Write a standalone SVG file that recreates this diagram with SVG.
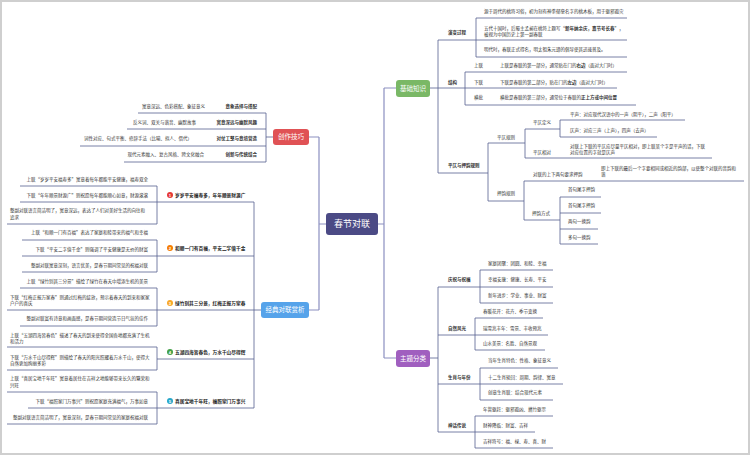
<svg xmlns="http://www.w3.org/2000/svg" width="750" height="455" viewBox="0 0 750 455">
<style>
.t{font-family:"Noto Sans CJK SC","Noto Sans",sans-serif;font-size:4.5px;fill:#333}
.b{font-weight:bold}
.n{font-family:"Noto Sans CJK SC","Noto Sans",sans-serif;font-size:4.7px;font-weight:bold;fill:#222}
.w{font-family:"Noto Sans CJK SC","Noto Sans",sans-serif;font-size:6.5px;fill:#fff;text-anchor:middle}
.e{text-anchor:end}
.ln{stroke:#56608f;stroke-width:0.8;fill:none}
.sp{stroke:#8b8fc0;stroke-width:1.2;fill:none}
.ic{font-family:"Liberation Sans",sans-serif;font-size:4.2px;font-weight:bold;fill:#fff;text-anchor:middle}
</style>
<rect x="1" y="1" width="748" height="453" fill="#fff" stroke="#cfcfcf" stroke-width="2"/>
<g id="connectors">
<path class="sp" d="M378 224H384M384 88V358M384 88H396M384 358H396M326 224H319M319 137V310M319 137H309M319 310H309"/>
<path class="ln" d="M430 88H438M438 40V173M438 40H627M476 18V57M476 18H627M476 57H627M438 88H617M465 72V105M465 72H627M465 105H636M438 173H488M488 143V201M488 143H525M525 129V158M525 129H560M560 120V137M560 120H685M560 137H657M525 158H712M488 201H524M524 181V220M524 181H744M524 220H560M560 197V244M560 197H601M560 213H601M560 229H598M560 244H598"/>
<path class="ln" d="M430 358H438M438 287V432M438 287H553M480 270V303M480 270H553M480 303H553M438 335H548M475 318V350M475 318H543M475 350H545M438 384H563M480 368V400M480 368H558M480 400H553M438 432H535M475 416V448M475 416H553M475 448H553"/>
<path class="ln" d="M273 137H266M266 113V162M266 113H138M266 129H127M266 146H80M266 162H124"/>
<path class="ln" d="M261 310H254M254 202V408M254 202H20M157 186V224M157 186H20M157 224H7M254 256H22M157 240V272M157 240H22M157 272H22M254 310H7M157 288V326M157 288H20M157 326H20M254 359H157M157 347V370M157 347H7M157 370H7M254 408H28M157 392V424M157 392H7M157 424H7"/>
</g>
<g id="center"><rect x="326" y="213" width="52" height="22" rx="3" fill="#4b4a85"/><text class="w" x="352" y="227.3" style="font-size:9px">春节对联</text></g>
<g id="jichu"><rect x="396" y="80" width="34" height="17" rx="3" fill="#7ab866"/><text class="w" x="413" y="90.6">基础知识</text></g>
<g id="zhuti"><rect x="396" y="350" width="34" height="17" rx="3" fill="#a05fbf"/><text class="w" x="413" y="360.6">主题分类</text></g>
<g id="chuangzuo"><rect x="273" y="129" width="36" height="16" rx="3" fill="#e05255"/><text class="w" x="291" y="139.4">创作技巧</text></g>
<g id="jingdian"><rect x="261" y="302" width="48" height="16" rx="3" fill="#56a3ea"/><text class="w" x="285" y="312.4">经典对联赏析</text></g>
<g id="yanbian">
<text class="t b" x="448" y="33.7">演变过程</text>
<text class="t" x="484" y="12.7">源于周代的桃符习俗，初为刻有神荼郁垒名字的桃木板，用于驱邪避灾</text>
<text class="t" x="484" y="29.7">五代十国时，后蜀主孟昶在桃符上题写“<tspan class="b">新年纳余庆，嘉节号长春</tspan>”，</text>
<text class="t" x="484" y="35.7">被视为中国历史上第一副春联</text>
<text class="t" x="484" y="50.7">明代时，春联正式得名，明太祖朱元璋的倡导使其迅速普及。</text>
</g>
<g id="jiegou">
<text class="t b" x="448" y="83.7">结构</text>
<text class="t" x="474" y="66.7">上联</text><text class="t" x="500" y="66.7">上联是春联的第一部分，通常贴在门的<tspan class="b">右边</tspan>（面对大门时）</text>
<text class="t" x="474" y="83.7">下联</text><text class="t" x="500" y="83.7">下联是春联的第二部分，贴在门的<tspan class="b">左边</tspan>（面对大门时）</text>
<text class="t" x="474" y="98.7">横批</text><text class="t" x="500" y="98.7">横批是春联的第三部分，通常位于春联的<tspan class="b">正上方或中间位置</tspan></text>
</g>
<g id="pingze">
<text class="t b" x="448" y="166.7">平仄与押韵规则</text>
<text class="t" x="497" y="138.7">平仄规则</text>
<text class="t" x="533" y="123.7">平仄定义</text>
<text class="t" x="570" y="115.7">平声：对应现代汉语中的一声（阴平），二声（阳平）</text>
<text class="t" x="570" y="131.7">仄声：对应三声（上声），四声（去声）</text>
<text class="t" x="533" y="153.7">平仄相对</text>
<text class="t" x="570" y="147.7">对联上下联的平仄应尽量平仄相对，即上联某个字是平声的话，下联</text>
<text class="t" x="570" y="153.7">对应位置的字就是仄声</text>
<text class="t" x="497" y="194.7">押韵规则</text>
<text class="t" x="533" y="175.7">对联的上下两句要求押韵</text>
<text class="t" x="601" y="169.7">即上下联的最后一个字要相同或相近的韵部，以使整个对联的音韵和</text>
<text class="t" x="601" y="175.7">谐</text>
<text class="t" x="532" y="214.7">押韵方式</text>
<text class="t" x="568" y="190.7">首句尾字押韵</text>
<text class="t" x="568" y="206.7">首句尾字押韵</text>
<text class="t" x="568" y="222.7">两句一换韵</text>
<text class="t" x="568" y="238.7">多句一换韵</text>
</g>
<g id="qingzhu">
<text class="t b" x="448" y="280.7">庆祝与祝福</text>
<text class="t" x="488" y="264.7">家庭团聚：团圆、和睦、幸福</text>
<text class="t" x="488" y="280.7">幸福安康：健康、长寿、平安</text>
<text class="t" x="488" y="296.7">新年进步：学业、事业、财富</text>
</g>
<g id="ziran">
<text class="t b" x="448" y="329.7">自然风光</text>
<text class="t" x="483" y="312.7">春暖花开：花卉、季节变换</text>
<text class="t" x="483" y="329.7">瑞雪兆丰年：雪景、丰收预兆</text>
<text class="t" x="483" y="344.7">山水美景：名胜、自然景观</text>
</g>
<g id="shengxiao">
<text class="t b" x="448" y="378.7">生肖与年份</text>
<text class="t" x="488" y="361.7">当年生肖特色：性格、象征意义</text>
<text class="t" x="488" y="378.7">十二生肖轮回：周期、韵律、寓意</text>
<text class="t" x="488" y="393.7">创意生肖联：结合现代元素</text>
</g>
<g id="shenhua">
<text class="t b" x="448" y="426.7">神话传说</text>
<text class="t" x="483" y="410.7">年兽驱赶：驱邪避凶、燃竹驱祟</text>
<text class="t" x="483" y="426.7">财神降临：财富、吉祥</text>
<text class="t" x="483" y="442.7">吉祥符号：福、禄、寿、喜、财</text>
</g>
<g id="jiqiao">
<text class="t b e" x="257" y="107.7">意象选择与搭配</text><text class="t e" x="205" y="107.7">寓意深远、色彩搭配、象征意义</text>
<text class="t b e" x="257" y="123.7">寓意深远与幽默风趣</text><text class="t e" x="196" y="123.7">反义词、双关与谐音、幽默故事</text>
<text class="t b e" x="257" y="139.7">对仗工整与意境营造</text><text class="t e" x="192" y="139.7">词性对应、句式平衡、修辞手法（比喻、拟人、借代）</text>
<text class="t b e" x="257" y="155.7">创新与传统结合</text><text class="t e" x="204" y="155.7">现代元素融入、复古风格、跨文化融合</text>
</g>
<g id="item1">
<circle cx="170" cy="195" r="3" fill="#e53935"/><text class="ic" x="170" y="196.5">1</text>
<text class="n" x="175" y="196.7">岁岁平安福寿多，年年顺景财源广</text>
<text class="t e" x="148" y="180.7">上联“岁岁平安福寿多”寓意着每年都能平安健康，福寿双全</text>
<text class="t e" x="148" y="196.7">下联“年年顺景财源广”则祝愿每年都能顺心如意，财源滚滚</text>
<text class="t" x="10" y="211.7">整副对联语言简洁明了，寓意深远，表达了人们对美好生活的向往和</text>
<text class="t" x="10" y="218.7">追求</text>
</g>
<g id="item2">
<circle cx="170" cy="248" r="3" fill="#f57c00"/><text class="ic" x="170" y="249.5">2</text>
<text class="n" x="175" y="249.7">和顺一门有百福，平安二字值千金</text>
<text class="t e" x="148" y="233.7">上联“和顺一门有百福”表达了家庭和睦带来的福气和幸福</text>
<text class="t e" x="148" y="250.7">下联“平安二字值千金”则强调了平安健康是无价的财富</text>
<text class="t e" x="148" y="266.7">整副对联寓意深刻，语言优美，是春节期间常见的祝福对联</text>
</g>
<g id="item3">
<circle cx="170" cy="303" r="3" fill="#f9a825"/><text class="ic" x="170" y="304.5">3</text>
<text class="n" x="175" y="304.7">绿竹别其三分景，红梅正报万家春</text>
<text class="t e" x="148" y="282.7">上联“绿竹别其三分景”描绘了绿竹在春天中增添生机的美景</text>
<text class="t" x="10" y="298.7">下联“红梅正报万家春”则通过红梅的绽放，预示着春天的到来和家家</text>
<text class="t" x="10" y="304.7">户户的喜庆</text>
<text class="t e" x="148" y="319.7">整副对联富有诗意和画面感，是春节期间营造节日气氛的佳作</text>
</g>
<g id="item4">
<circle cx="170" cy="352" r="3" fill="#43a047"/><text class="ic" x="170" y="353.5">4</text>
<text class="n" x="175" y="353.7">五湖四海皆春色，万水千山尽得辉</text>
<text class="t" x="10" y="336.7">上联“五湖四海皆春色”描述了春天的到来使得全国各地都充满了生机</text>
<text class="t" x="10" y="342.7">和活力</text>
<text class="t" x="10" y="358.7">下联“万水千山尽得辉”则描绘了春天的阳光照耀着万水千山，使得大</text>
<text class="t" x="10" y="364.7">自然更加绚丽多彩</text>
</g>
<g id="item5">
<circle cx="170" cy="401" r="3" fill="#26a6c9"/><text class="ic" x="170" y="402.5">5</text>
<text class="n" x="175" y="402.7">喜居宝地千年旺，福照家门万事兴</text>
<text class="t" x="10" y="379.7">上联“喜居宝地千年旺”寓意着居住在吉祥之地能够带来长久的繁荣和</text>
<text class="t" x="10" y="386.7">兴旺</text>
<text class="t e" x="148" y="402.7">下联“福照家门万事兴”则祝愿家庭充满福气，万事如意</text>
<text class="t e" x="148" y="418.7">整副对联语言简洁明了，寓意深刻，是春节期间常见的家庭祝福对联</text>
</g>
</svg>
